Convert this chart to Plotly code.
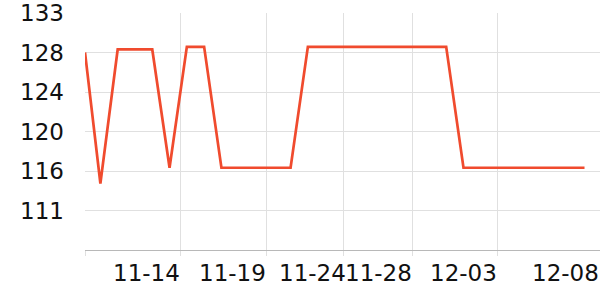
import plotly.graph_objects as go

# data
dates = [
    "2023-11-09 02:38", "2023-11-10", "2023-11-11", "2023-11-12", "2023-11-13",
    "2023-11-14", "2023-11-15", "2023-11-16", "2023-11-17", "2023-11-18",
    "2023-11-19", "2023-11-20", "2023-11-21", "2023-11-22", "2023-11-23",
    "2023-11-24", "2023-11-25", "2023-11-26", "2023-11-27", "2023-11-28",
    "2023-11-29", "2023-11-30", "2023-12-01", "2023-12-02", "2023-12-03",
    "2023-12-04", "2023-12-05", "2023-12-06", "2023-12-07", "2023-12-08",
]
values = [
    128.78, 114.76, 129.1, 129.1, 129.1,
    116.45, 129.38, 129.38, 116.45, 116.45,
    116.45, 116.45, 116.45, 129.38, 129.38,
    129.38, 129.38, 129.38, 129.38, 129.38,
    129.38, 129.38, 116.45, 116.45, 116.45,
    116.45, 116.45, 116.45, 116.45, 116.45,
]

# vertical grid lines (time axis split lines)
x_grid_dates = [
    "2023-11-09 02:38", "2023-11-14 14:59", "2023-11-19 15:07",
    "2023-11-24 01:55", "2023-11-28 01:40", "2023-12-02 23:32",
]
# axis labels and where their centres sit
x_label_dates = [
    "2023-11-12 16:19", "2023-11-17 15:22", "2023-11-22 06:00",
    "2023-11-26 01:41", "2023-12-01 00:29", "2023-12-06 21:07",
]
x_tick_labels = ["11-14", "11-19", "11-24", "11-28", "12-03", "12-08"]
x_range = ["2023-11-09 02:38", "2023-12-08 21:30"]

y_max = 133.0
y_step = 4.225
y_tick_labels = ["133", "128", "124", "120", "116", "111", ""]
y_tick_vals = [y_max - i * y_step for i in range(len(y_tick_labels))]

grid = "#e0e0e0"
axis = "#b8b8b8"

fig = go.Figure(
    go.Scatter(
        x=dates, y=values, mode="lines",
        line=dict(color="#f04b2e", width=2.7),
        hoverinfo="skip", cliponaxis=False,
    )
)

for d, t in zip(x_label_dates, x_tick_labels):
    fig.add_annotation(
        x=d, y=0, xref="x", yref="paper", text=t, showarrow=False,
        xanchor="center", yanchor="top", yshift=-8,
        font=dict(family="DejaVu Sans", size=23, color="#111111"),
    )

fig.update_layout(
    width=600, height=300,
    margin=dict(l=85, r=0, t=10, b=50),
    paper_bgcolor="white", plot_bgcolor="white",
    showlegend=False,
    font=dict(family="DejaVu Sans", size=23, color="#111111"),
    xaxis=dict(
        type="date", range=x_range,
        tickmode="array", tickvals=x_grid_dates,
        ticktext=[""] * len(x_grid_dates),
        showgrid=True, gridcolor=grid, gridwidth=1,
        showline=True, linecolor=axis, linewidth=1,
        ticks="outside", ticklen=5, tickcolor=grid,
        zeroline=False,
    ),
    yaxis=dict(
        range=[y_tick_vals[-1], y_max + 0.001],
        tickmode="array", tickvals=y_tick_vals, ticktext=y_tick_labels,
        ticklabeloverflow="allow",
        showgrid=True, gridcolor=grid, gridwidth=1,
        showline=False, ticks="", zeroline=False,
        ticklabelstandoff=20,
    ),
)

fig.write_html("out.html")
